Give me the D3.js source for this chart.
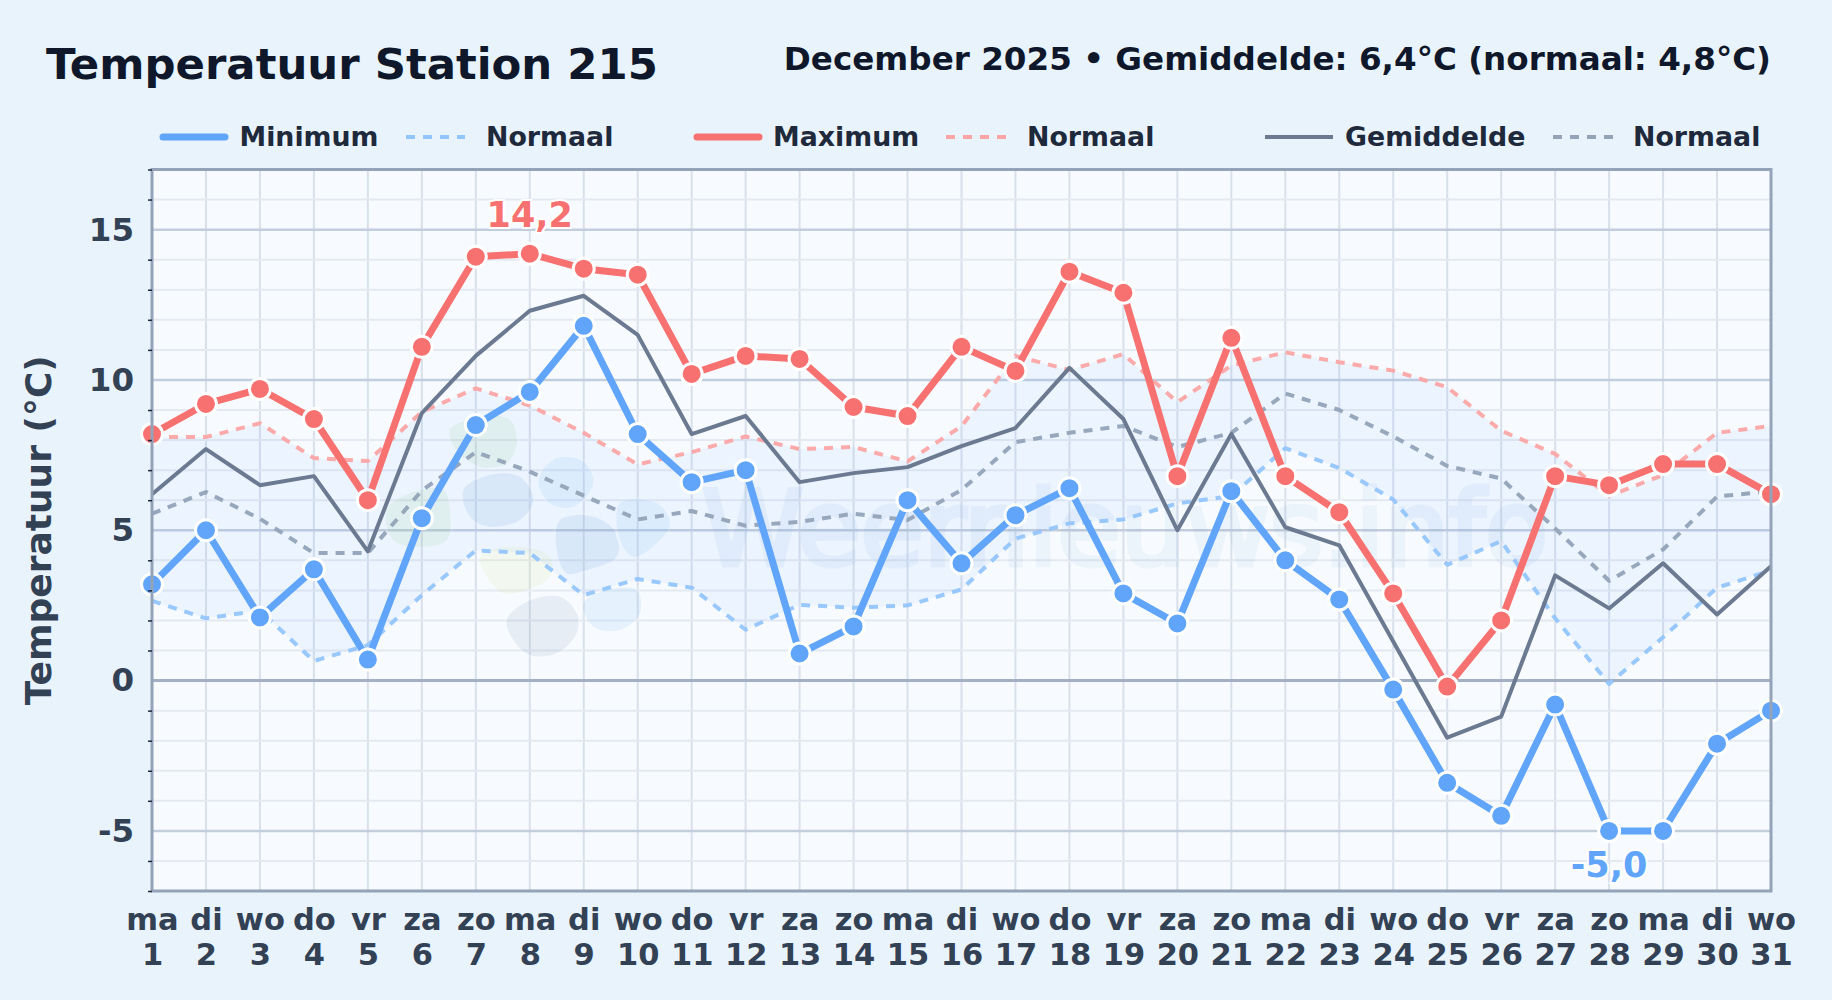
<!DOCTYPE html>
<html>
<head>
<meta charset="utf-8">
<title>Temperatuur Station 215</title>
<script src="https://cdn.jsdelivr.net/npm/d3@7"></script>
<style>
  html, body { margin: 0; padding: 0; background: #e9f3fc; }
  svg { display: block; font-family: "DejaVu Sans", sans-serif; }
</style>
</head>
<body>
<div id="chart"></div>
<script>
// Values
const days = ["ma","di","wo","do","vr","za","zo","ma","di","wo","do","vr","za","zo","ma","di","wo","do","vr","za","zo","ma","di","wo","do","vr","za","zo","ma","di","wo"];
const dates = d3.range(1, 32);
const minimum = [3.2,5.0,2.1,3.7,0.7,5.4,8.5,9.6,11.8,8.2,6.6,7.0,0.9,1.8,6.0,3.9,5.5,6.4,2.9,1.9,6.3,4.0,2.7,-0.3,-3.4,-4.5,-0.8,-5.0,-5.0,-2.1,-1.0];
const maximum = [8.2,9.2,9.7,8.7,6.0,11.1,14.1,14.2,13.7,13.5,10.2,10.8,10.7,9.1,8.8,11.1,10.3,13.6,12.9,6.8,11.4,6.8,5.6,2.9,-0.2,2.0,6.8,6.5,7.2,7.2,6.2];
const gemiddelde = [6.2,7.7,6.5,6.8,4.3,8.9,10.8,12.3,12.8,11.5,8.2,8.8,6.6,6.9,7.1,7.8,8.4,10.4,8.7,5.0,8.2,5.1,4.5,1.3,-1.9,-1.2,3.5,2.4,3.9,2.2,3.8];
const normaalMin = [2.65,2.07,2.33,0.65,1.18,2.84,4.33,4.24,2.84,3.38,3.09,1.69,2.52,2.42,2.5,3.03,4.72,5.23,5.36,5.89,6.14,7.73,7.07,6.02,3.85,4.64,2.07,-0.11,1.44,3.09,3.66];
const normaalMax = [8.1,8.1,8.56,7.4,7.3,8.94,9.72,9.15,8.24,7.19,7.6,8.12,7.7,7.77,7.29,8.46,10.8,10.33,10.86,9.26,10.48,10.92,10.59,10.31,9.76,8.31,7.54,6.14,6.84,8.24,8.47];
const normaalGem = [5.55,6.27,5.38,4.24,4.24,6.32,7.6,6.95,6.15,5.36,5.64,5.15,5.28,5.55,5.34,6.34,7.93,8.24,8.47,7.77,8.24,9.55,9.0,8.12,7.14,6.72,5.06,3.32,4.36,6.12,6.3];
const yMajor = [-5, 0, 5, 10, 15];
const yMinor = [-7,-6,-4,-3,-2,-1,1,2,3,4,6,7,8,9,11,12,13,14,16,17];

const width = 1832, height = 1000;
const plotLeft = 152, plotRight = 1771, plotTop = 169.5, plotBottom = 891;

const svg = d3.select("#chart").append("svg")
    .attr("width", width)
    .attr("height", height);

svg.append("rect").attr("width", width).attr("height", height).attr("fill", "#e9f3fc");

const x = d3.scaleLinear().domain([1, 31]).range([plotLeft, plotRight]);
const y = d3.scaleLinear().domain([-7, 17]).range([plotBottom, plotTop]);

// Plot background
svg.append("rect")
    .attr("x", plotLeft).attr("y", plotTop)
    .attr("width", plotRight - plotLeft).attr("height", plotBottom - plotTop)
    .attr("fill", "#f7fbff");

// Grid
const grid = svg.append("g");
grid.selectAll(".v").data(dates).enter().append("line")
    .attr("x1", d => x(d)).attr("x2", d => x(d))
    .attr("y1", plotTop).attr("y2", plotBottom)
    .attr("stroke", "#d9e0eb").attr("stroke-width", 2);
grid.selectAll(".minor").data(yMinor).enter().append("line")
    .attr("x1", plotLeft).attr("x2", plotRight)
    .attr("y1", d => y(d)).attr("y2", d => y(d))
    .attr("stroke", "#e4e9f1").attr("stroke-width", 2);
grid.selectAll(".major").data(yMajor).enter().append("line")
    .attr("x1", plotLeft).attr("x2", plotRight)
    .attr("y1", d => y(d)).attr("y2", d => y(d))
    .attr("stroke", d => d === 0 ? "#a3afc2" : "#c3cedd")
    .attr("stroke-width", d => d === 0 ? 3 : 2.5);

// Watermark: loose outline blobs, points measured in a 3x crop at (380,400)
const blobs = [
    { fill: "#a6d48a", pts: [[210,90],[300,50],[390,60],[410,130],[380,190],[300,200],[230,150]] },
    { fill: "#a6d48a", pts: [[20,330],[90,280],[190,270],[210,340],[200,420],[110,440],[40,420]] },
    { fill: "#7aa6d6", pts: [[250,270],[330,225],[420,230],[460,300],[420,360],[330,380],[270,350]] },
    { fill: "#84c4f8", pts: [[475,240],[530,175],[610,185],[640,250],[580,320],[510,310]] },
    { fill: "#7aa6d6", pts: [[540,360],[640,350],[710,400],[710,470],[620,510],[560,520],[530,450]] },
    { fill: "#84c4f8", pts: [[720,310],[830,310],[870,370],[830,430],[760,470],[720,420]] },
    { fill: "#dcea9a", pts: [[300,470],[400,440],[510,470],[510,530],[440,570],[370,580],[320,530]] },
    { fill: "#8aa0bc", pts: [[380,660],[440,605],[540,590],[590,640],[590,700],[530,760],[450,765],[400,720]] },
    { fill: "#84c4f8", pts: [[610,610],[680,570],[770,570],[780,640],[720,690],[640,680]] }
];
const blobLine = d3.line()
    .x(p => 380 + p[0] / 3)
    .y(p => 400 + p[1] / 3)
    .curve(d3.curveCatmullRomClosed);
const mark = svg.append("g").attr("opacity", 0.15);
mark.selectAll("path").data(blobs).enter().append("path")
    .attr("d", d => blobLine(d.pts))
    .attr("fill", d => d.fill)
    .attr("stroke", "white").attr("stroke-width", 5).attr("paint-order", "stroke");
svg.append("text")
    .attr("x", 702).attr("y", 565)
    .attr("font-size", 104)
    .attr("textLength", 846).attr("lengthAdjust", "spacingAndGlyphs")
    .attr("fill", "#3b82c4").attr("stroke", "#3b82c4").attr("stroke-width", 5)
    .attr("opacity", 0.055)
    .text("Weernieuws.info");

// Band between normal min and normal max
const band = d3.area()
    .x((d, i) => x(dates[i]))
    .y0((d, i) => y(normaalMin[i]))
    .y1((d, i) => y(normaalMax[i]));
svg.append("path").datum(dates)
    .attr("d", band)
    .attr("fill", "#60a5fa").attr("opacity", 0.075);

const line = d3.line().x((d, i) => x(dates[i])).y(d => y(d));

function drawLine(values, color, w, dash, opacity) {
    svg.append("path").datum(values)
        .attr("d", line)
        .attr("fill", "none")
        .attr("stroke", color)
        .attr("stroke-width", w)
        .attr("stroke-dasharray", dash)
        .attr("stroke-opacity", opacity)
        .attr("stroke-linejoin", "round");
}

drawLine(normaalMin, "#93c5fd", 4, "9,8", 0.95);
drawLine(normaalMax, "#fca5a5", 4, "9,8", 0.95);
drawLine(normaalGem, "#94a3b8", 4, "9,8", 0.95);
drawLine(gemiddelde, "#6b7a90", 4, null, 1);
drawLine(minimum, "#60a5fa", 7, null, 1);
drawLine(maximum, "#f87171", 7, null, 1);

function drawDots(values, color) {
    svg.append("g").selectAll("circle").data(values).enter().append("circle")
        .attr("cx", (d, i) => x(dates[i]))
        .attr("cy", d => y(d))
        .attr("r", 10.5)
        .attr("fill", color)
        .attr("stroke", "white")
        .attr("stroke-width", 3);
}
drawDots(minimum, "#60a5fa");
drawDots(maximum, "#f87171");

// Axes
svg.append("rect")
    .attr("x", plotLeft).attr("y", plotTop)
    .attr("width", plotRight - plotLeft).attr("height", plotBottom - plotTop)
    .attr("fill", "none").attr("stroke", "#94a3b8").attr("stroke-width", 3);

const yAxis = svg.append("g")
    .attr("transform", `translate(${plotLeft},0)`)
    .call(d3.axisLeft(y).tickValues(yMajor).tickSize(0).tickPadding(18).tickFormat(d => String(d)));
yAxis.select(".domain").remove();
yAxis.selectAll("text")
    .attr("font-size", 32.5).attr("font-weight", "bold")
    .attr("font-family", "DejaVu Sans").attr("fill", "#334155");

const yMinorAxis = svg.append("g")
    .attr("transform", `translate(${plotLeft},0)`)
    .call(d3.axisLeft(y).tickValues(yMinor).tickSize(4).tickFormat(""));
yMinorAxis.select(".domain").remove();
yMinorAxis.selectAll("line").attr("stroke", "#1e293b").attr("stroke-width", 1.5);

const xAxis = svg.append("g")
    .attr("transform", `translate(0,${plotBottom})`)
    .call(d3.axisBottom(x).tickValues(dates).tickSize(0).tickFormat(""));
xAxis.select(".domain").remove();
xAxis.selectAll(".tick text").each(function (d, i) {
    const t = d3.select(this).text(null)
        .attr("font-size", 30.5).attr("font-weight", "bold")
        .attr("font-family", "DejaVu Sans").attr("fill", "#334155")
        .attr("text-anchor", "middle").attr("y", 0).attr("dy", null);
    t.append("tspan").attr("x", 0).attr("y", 39).text(days[i]);
    t.append("tspan").attr("x", 0).attr("y", 74).text(d);
});

// Titles
svg.append("text").attr("x", 46).attr("y", 79)
    .attr("font-size", 43.4).attr("font-weight", "bold").attr("fill", "#0f172a")
    .text("Temperatuur Station 215");
svg.append("text").attr("x", plotRight).attr("y", 70)
    .attr("text-anchor", "end")
    .attr("font-size", 32.6).attr("font-weight", "bold").attr("fill", "#0f172a")
    .text("December 2025 \u2022 Gemiddelde: 6,4\u00b0C (normaal: 4,8\u00b0C)");
svg.append("text")
    .attr("transform", `translate(51,${(plotTop + plotBottom) / 2}) rotate(-90)`)
    .attr("text-anchor", "middle")
    .attr("font-size", 36).attr("font-weight", "bold").attr("fill", "#334155")
    .text("Temperatuur (\u00b0C)");

// Legend
const legendLabels = ["Minimum", "Normaal", "Maximum", "Normaal", "Gemiddelde", "Normaal"];
const legendColors = ["#60a5fa", "#93c5fd", "#f87171", "#fca5a5", "#6b7a90", "#94a3b8"];
const legendStart = [163, 406, 697, 946, 1265, 1553];
const legendEnd = [225, 465, 759, 1006, 1333, 1618];
const legendText = [239.5, 486, 773, 1027, 1345, 1633];
const legend = svg.append("g");
legendLabels.forEach((label, i) => {
    const dashed = i % 2 === 1;
    legend.append("line")
        .attr("x1", legendStart[i]).attr("x2", legendEnd[i])
        .attr("y1", 137).attr("y2", 137)
        .attr("stroke", legendColors[i])
        .attr("stroke-width", dashed || i === 4 ? 4 : 7)
        .attr("stroke-dasharray", dashed ? "9,8" : null)
        .attr("stroke-linecap", i === 4 || dashed ? "butt" : "round");
    legend.append("text")
        .attr("x", legendText[i]).attr("y", 146)
        .attr("font-size", 26.8).attr("font-weight", "bold").attr("fill", "#1e293b")
        .text(label);
});

// Extreme labels
function extreme(day, value, offset, color, text) {
    svg.append("text")
        .attr("x", x(day)).attr("y", y(value) + offset)
        .attr("text-anchor", "middle")
        .attr("font-size", 35).attr("font-weight", "bold")
        .attr("fill", color)
        .attr("stroke", "white").attr("stroke-width", 4).attr("paint-order", "stroke")
        .text(text);
}
extreme(8, 14.2, -27, "#f87171", "14,2");
extreme(28, -5.0, 46, "#60a5fa", "-5,0");
</script>
</body>
</html>
